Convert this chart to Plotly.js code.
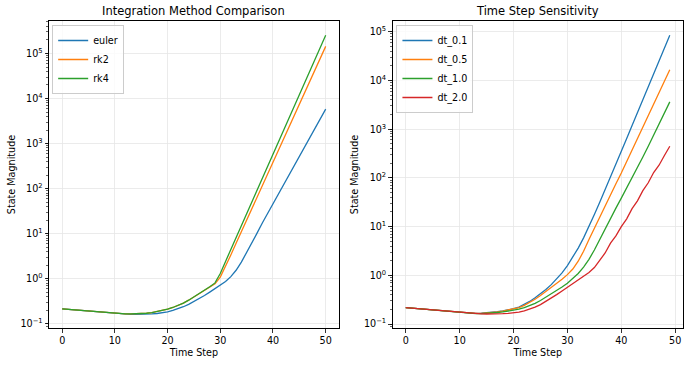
<!DOCTYPE html>
<html>
<head>
<meta charset="utf-8">
<script src="https://cdn.plot.ly/plotly-3.0.1.min.js"></script>
<style>html,body{margin:0;padding:0;background:#fff;}#chart{width:690px;height:365px;}</style>
</head>
<body>
<div id="chart"></div>
<script>
// ---- data ----
const stepsLeft = Array.from({length: 51}, (_, i) => i);
const stepsRight = Array.from({length: 50}, (_, i) => i);

const euler = [0.2163,0.2113,0.2065,0.2018,0.1972,0.1928,0.1884,0.1841,0.1799,0.1758,0.1718,
  0.1683,0.1656,0.1637,0.1626,0.1626,0.1641,0.1667,0.1706,0.1766,0.1862,
  0.2004,0.2183,0.2410,0.2723,0.3126,0.3631,0.4266,0.5070,0.6026,0.7079,
  0.8710,1.122,1.549,2.344,3.802,6.310,10.47,17.58,28.51,46.24,
  74.99,121.6,197.2,319.9,518.8,841.4,1365,2213,3589,5821];
const rk2 = [0.2163,0.2113,0.2065,0.2018,0.1972,0.1928,0.1884,0.1841,0.1799,0.1758,0.1718,
  0.1690,0.1675,0.1667,0.1675,0.1698,0.1726,0.1786,0.1875,0.1986,0.2128,
  0.2317,0.2570,0.2904,0.3365,0.3981,0.4677,0.5559,0.6683,0.7762,1.096,
  1.879,3.396,6.138,11.09,20.04,36.22,65.46,118.3,213.8,386.4,
  698.2,1262,2280,4121,7447,13460,24320,43950,79430,143500];
const rk4 = [0.2163,0.2113,0.2065,0.2018,0.1972,0.1928,0.1884,0.1841,0.1799,0.1758,0.1718,
  0.1690,0.1675,0.1667,0.1675,0.1698,0.1726,0.1786,0.1875,0.1986,0.2128,
  0.2317,0.2570,0.2904,0.3365,0.3981,0.4677,0.5559,0.6683,0.8128,1.318,
  2.438,4.477,8.222,15.10,27.73,50.93,93.54,171.8,315.5,579.4,
  1064,1954,3589,6592,12110,22230,40830,74990,137700,252900];

const dt01 = [0.2173,0.2123,0.2075,0.2028,0.1982,0.1936,0.1892,0.1849,0.1807,0.1766,0.1726,
  0.1690,0.1667,0.1660,0.1671,0.1698,0.1738,0.1795,0.1871,0.1963,0.2070,
  0.2239,0.2512,0.2917,0.3467,0.4169,0.5129,0.6457,0.8318,1.122,1.585,
  2.344,3.631,5.888,10.0,17.78,31.62,56.89,103.5,190.5,350.8,
  645.7,1189,2188,4027,7413,13650,25120,46240,85110];
const dt05 = [0.2173,0.2123,0.2075,0.2028,0.1982,0.1936,0.1892,0.1849,0.1807,0.1766,0.1726,
  0.1690,0.1667,0.1656,0.1663,0.1687,0.1722,0.1774,0.1845,0.1932,0.2032,
  0.2188,0.2427,0.2767,0.3236,0.3846,0.4624,0.5559,0.6761,0.8318,1.035,
  1.349,1.950,3.126,5.433,9.333,16.03,27.23,45.71,75.86,125.9,
  216.3,371.5,645.7,1096,1905,3236,5623,9661,16600];
const dt10 = [0.2173,0.2123,0.2075,0.2028,0.1982,0.1936,0.1892,0.1849,0.1807,0.1766,0.1726,
  0.1687,0.1663,0.1648,0.1648,0.1663,0.1694,0.1730,0.1774,0.1832,0.1905,
  0.2018,0.2173,0.2382,0.2673,0.3055,0.3548,0.4121,0.4842,0.5754,0.6918,
  0.8511,1.096,1.479,2.138,3.311,5.495,9.120,14.79,23.99,38.46,
  61.66,98.86,162.2,269.2,446.7,749.9,1259,2138,3631];
const dt20 = [0.2173,0.2123,0.2075,0.2028,0.1982,0.1936,0.1892,0.1849,0.1807,0.1766,0.1726,
  0.1690,0.1663,0.1641,0.1622,0.1611,0.1607,0.1614,0.1633,0.1663,0.1706,
  0.1758,0.1871,0.2018,0.2228,0.2512,0.2917,0.3428,0.4027,0.4786,0.5689,
  0.6761,0.7943,0.9441,1.148,1.445,2.065,2.884,4.571,6.457,10.0,
  14.45,23.44,33.88,54.95,79.43,128.8,182.0,288.4,446.7];

const xTickVals = [0, 10, 20, 30, 40, 50];
const yTickVals = [0.1, 1, 10, 100, 1000, 10000, 100000];
const yTickText = ['10<sup>\u22121</sup>', '10<sup>0</sup>', '10<sup>1</sup>', '10<sup>2</sup>',
                   '10<sup>3</sup>', '10<sup>4</sup>', '10<sup>5</sup>'];

const colors = ['#1f77b4', '#ff7f0e', '#2ca02c', '#d62728'];
const FONT = 'DejaVu Sans, Liberation Sans, sans-serif';

function line(x, y, name, color, xa, ya, leg) {
  return {x: x, y: y, name: name, type: 'scatter', mode: 'lines',
    line: {color: color, width: 1.3}, xaxis: xa, yaxis: ya, legend: leg};
}

const data = [
  line(stepsLeft, euler, 'euler', colors[0], 'x', 'y', 'legend'),
  line(stepsLeft, rk2, 'rk2', colors[1], 'x', 'y', 'legend'),
  line(stepsLeft, rk4, 'rk4', colors[2], 'x', 'y', 'legend'),
  line(stepsRight, dt01, 'dt_0.1', colors[0], 'x2', 'y2', 'legend2'),
  line(stepsRight, dt05, 'dt_0.5', colors[1], 'x2', 'y2', 'legend2'),
  line(stepsRight, dt10, 'dt_1.0', colors[2], 'x2', 'y2', 'legend2'),
  line(stepsRight, dt20, 'dt_2.0', colors[3], 'x2', 'y2', 'legend2')
];

const tickFont = {family: FONT, size: 9.6, color: '#000'};
function xAxis(domain, range, anchor) {
  return {domain: domain, range: range, anchor: anchor,
    tickmode: 'array', tickvals: xTickVals, ticks: 'outside', ticklen: 3.5, tickwidth: 0.8, tickcolor: '#000',
    showline: true, mirror: true, linecolor: '#000', linewidth: 1,
    showgrid: true, gridcolor: '#e6e6e6', gridwidth: 0.8, zeroline: false,
    tickfont: tickFont,
    title: {text: 'Time Step', font: {family: FONT, size: 9.6, color: '#000'}, standoff: 4}};
}
function yAxis(domain, range, anchor) {
  return {domain: domain, range: range, anchor: anchor, type: 'log',
    tickmode: 'array', tickvals: yTickVals, ticktext: yTickText,
    ticks: 'outside', ticklen: 3.5, tickwidth: 0.8, tickcolor: '#000',
    minor: {ticks: 'outside', ticklen: 2, tickwidth: 0.6, tickcolor: '#000', dtick: 'D1', showgrid: false},
    showline: true, mirror: true, linecolor: '#000', linewidth: 1,
    showgrid: true, gridcolor: '#e6e6e6', gridwidth: 0.8, zeroline: false,
    tickfont: tickFont,
    title: {text: 'State Magnitude', font: {family: FONT, size: 9.6, color: '#000'}, standoff: 3}};
}

const legendStyle = {bgcolor: 'rgba(255,255,255,0.8)', bordercolor: '#cccccc', borderwidth: 1,
  font: {family: FONT, size: 9.6, color: '#000'}, xanchor: 'left', yanchor: 'top'};

const layout = {
  width: 690, height: 365,
  margin: {l: 49, r: 7, t: 21, b: 37},
  paper_bgcolor: '#fff', plot_bgcolor: '#fff',
  font: {family: FONT, size: 9.6, color: '#000'},
  showlegend: true,
  xaxis: xAxis([0, 0.4572], [-2.5, 52.5], 'y'),
  yaxis: yAxis([0, 1], [-1.09, 5.72], 'x'),
  xaxis2: xAxis([0.5419, 1], [-2.45, 51.45], 'y2'),
  yaxis2: yAxis([0, 1], [-1.08, 5.22], 'x2'),
  legend: Object.assign({x: 0.005, y: 0.987}, legendStyle),
  legend2: Object.assign({x: 0.548, y: 0.987}, legendStyle),
  annotations: [
    {text: 'Integration Method Comparison', xref: 'x domain', yref: 'y domain', x: 0.5, y: 1,
     xanchor: 'center', yanchor: 'bottom', yshift: 1, showarrow: false,
     font: {family: FONT, size: 11.5, color: '#000'}},
    {text: 'Time Step Sensitivity', xref: 'x2 domain', yref: 'y2 domain', x: 0.5, y: 1,
     xanchor: 'center', yanchor: 'bottom', yshift: 1, showarrow: false,
     font: {family: FONT, size: 11.5, color: '#000'}}
  ]
};

Plotly.newPlot('chart', data, layout, {displayModeBar: false, staticPlot: true});
</script>
</body>
</html>
